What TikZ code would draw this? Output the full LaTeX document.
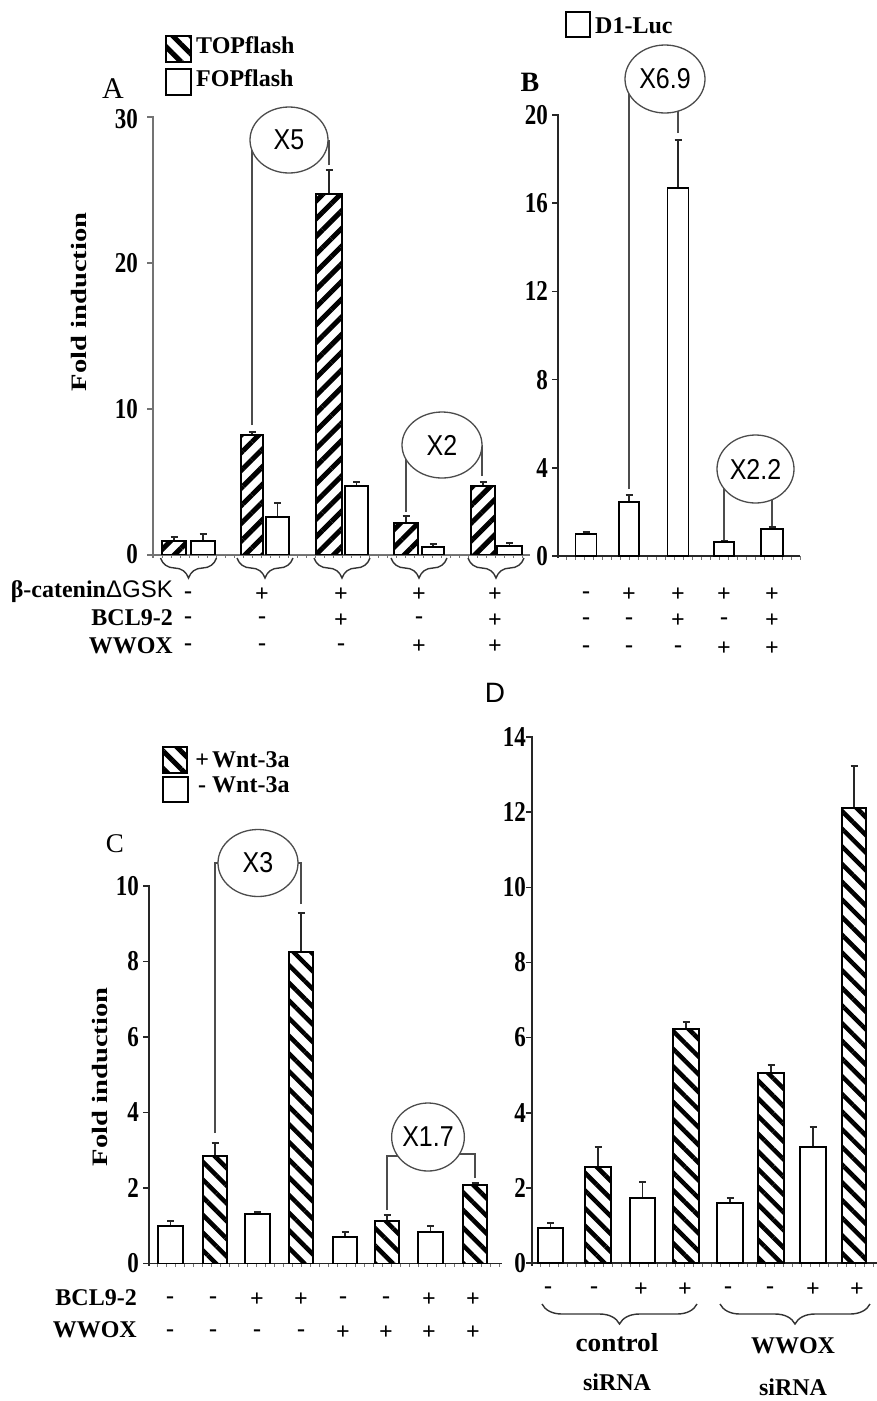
\documentclass[tikz,border=0pt]{standalone}
\usepackage{graphicx}
\usepackage{fontspec}
\setmainfont{Liberation Serif}
\newfontfamily\sansf{Liberation Sans}
\usetikzlibrary{patterns.meta,decorations.pathreplacing,shapes.geometric,backgrounds,calc}
\newcommand\drawbar[6]{%
  \draw[errline] ({(#2+#3)/2},#5) -- ({(#2+#3)/2},#6) ({(#2+#3)/2-3.5},#6) -- ({(#2+#3)/2+3.5},#6);
  \draw[#1] (#2,#4) rectangle (#3,#5);
}
\begin{document}
\begin{tikzpicture}[x=1pt,y=-1pt,
  lab/.style={font=\fontsize{24}{24}\selectfont\bfseries, inner sep=0pt},
  sg/.style={font=\fontsize{24}{24}\selectfont\bfseries, inner sep=0pt},
  tk/.style={font=\fontsize{23}{23}\selectfont\bfseries, inner sep=0pt, anchor=east, yscale=1.25},
  ell/.style={ellipse, draw=black!70, line width=1.3pt, fill=white, inner sep=0pt, font=\sansf\fontsize{25}{25}\selectfont},
  conn/.style={black!70, line width=1.3pt},
  axis/.style={black!85, line width=1.6pt},
  axisA/.style={black!55, line width=1.8pt},
  errline/.style={black!85, line width=1.3pt},
  minor/.style={black!55, line width=0.7pt},
  brc/.style={decorate, decoration={brace, mirror, amplitude=20pt}, black!80, line width=1.4pt},
  hatchA/.style={draw=black, line width=1.6pt, pattern={Lines[angle=45,distance=12.5pt,line width=5pt]}},
  hatchL/.style={draw=black, line width=1.6pt, pattern={Lines[angle=-45,distance=12.5pt,line width=5pt]}},
  hatchC/.style={draw=black, line width=1.6pt, pattern={Lines[angle=-45,distance=12.5pt,line width=4.5pt]}},
  openbar/.style={draw=black, line width=1.6pt, fill=white},
  ylab/.style={font=\fontsize{22}{22}\selectfont\bfseries, rotate=90, inner sep=0pt},
  pl/.style={inner sep=0pt, anchor=base}
]
\begin{scope}[on background layer]
\fill[white] (0,0) rectangle (877,1401);
\end{scope}
\useasboundingbox (0,0) rectangle (877,1401);

%================ PANEL A =================
\node[pl, font=\fontsize{30}{30}\selectfont] (lA) at (113,98) {A};
\draw[hatchL] (166,36) rectangle (191,62);
\node[lab, anchor=base west] (legA1) at (196,53) {TOPflash};
\draw[openbar] (166,69) rectangle (191,95);
\node[lab, anchor=base west] (legA2) at (196,86) {FOPflash};
\node[ylab] (yA) at (79,302) {\scalebox{1.3}[1]{Fold induction}};
\draw[axisA] (147,117) -- (153,117) -- (153,558);
\foreach \y in {263,409,554.5} \draw[axisA] (147,\y) -- (153,\y);
\foreach \v/\y in {30/119,20/263,10/409,0/554.5} \node[tk] (tA\v) at (138,\y) {\v};
\foreach \x in {162,171,...,528} \draw[minor] (\x,554.5) -- (\x,558);
\draw[axisA, line width=2pt] (147,554.5) -- (530,554.5);
\drawbar{hatchA}{162}{186}{554.5}{541}{537}
\drawbar{openbar}{191}{215}{554.5}{541}{534}
\drawbar{hatchA}{241}{263}{554.5}{435}{432}
\drawbar{openbar}{266}{289}{554.5}{517}{503}
\drawbar{hatchA}{316}{342}{554.5}{194}{170}
\drawbar{openbar}{345}{368}{554.5}{486}{482}
\drawbar{hatchA}{394}{418}{554.5}{523}{516}
\drawbar{openbar}{422}{444}{554.5}{547}{544}
\drawbar{hatchA}{471}{495}{554.5}{486}{482}
\drawbar{openbar}{497}{522}{554.5}{546}{543}
\node[ell, minimum width=78pt, minimum height=66pt] (eA1) at (289,140) {\scalebox{1}[1.15]{X5}};
\node[ell, minimum width=80pt, minimum height=66pt] (eA2) at (442,445) {\scalebox{1}[1.15]{X2}};
\coordinate (cA2) at (252,425);
\coordinate (cA3) at (329,165);
\coordinate (cA4) at (406,512);
\coordinate (cA5) at (482,476);
\begin{scope}[on background layer]
\draw[conn] (cA2) -- (cA2 |- eA1.center);
\draw[conn] (cA3) -- (cA3 |- eA1.center);
\draw[conn] (cA4) -- (cA4 |- eA2.center);
\draw[conn] (cA5) -- (cA5 |- eA2.center);
\end{scope}
\foreach \c in {188.5,265,342,419,496} \draw[brc] ({\c-28},558) -- ({\c+28},558);
\node[lab, anchor=base east] (rA1) at (173,597) {β-catenin{\sansf\mdseries Δ}{\sansf\mdseries GSK}};
\node[lab, anchor=base east] (rA2) at (173,625) {BCL9-2};
\node[lab, anchor=base east] (rA3) at (173,653) {WWOX};
\foreach \x/\s [count=\i] in {188/-,262/+,341/+,419/+,495/+} \node[sg] (sA1\i) at (\x,595) {\s};
\foreach \x/\s [count=\i] in {188/-,262/-,341/+,419/-,495/+} \node[sg] (sA2\i) at (\x,620.5) {\s};
\foreach \x/\s [count=\i] in {188/-,262/-,341/-,419/+,495/+} \node[sg] (sA3\i) at (\x,647) {\s};

%================ PANEL B =================
\draw[openbar] (566,12) rectangle (590,37);
\node[lab, anchor=base west] (legB) at (595,33) {D1-Luc};
\node[pl, font=\fontsize{28}{28}\selectfont\bfseries] (lB) at (530,91) {B};
\draw[axis] (552,115) -- (558,115) -- (558,558);
\foreach \y in {203.2,291.4,379.6,467.8,556} \draw[axis] (552,\y) -- (558,\y);
\foreach \v/\y in {20/115,16/203.2,12/291.4,8/379.6,4/467.8,0/556} \node[tk] (tB\v) at (548,\y) {\v};
\foreach \x in {566,575,...,800} \draw[minor] (\x,556) -- (\x,559.5);
\draw[axis] (552,556) -- (800,556);
\drawbar{openbar}{575.5}{596.5}{556}{534}{532}
\drawbar{openbar}{619}{639}{556}{502}{495}
\drawbar{openbar}{667.5}{688.5}{556}{188}{140}
\drawbar{openbar}{714}{734}{556}{542}{541}
\drawbar{openbar}{761}{783}{556}{529}{527}
\node[ell, minimum width=80pt, minimum height=68pt] (eB1) at (665,79) {\scalebox{1}[1.15]{X6.9}};
\node[ell, minimum width=77pt, minimum height=68pt] (eB2) at (755.5,469) {\scalebox{1}[1.15]{X2.2}};
\coordinate (cB2) at (629,489);
\coordinate (cB3) at (678,133);
\coordinate (cB4) at (724,542);
\coordinate (cB5) at (772,527);
\begin{scope}[on background layer]
\draw[conn] (cB2) -- (cB2 |- eB1.center);
\draw[conn] (cB3) -- (cB3 |- eB1.center);
\draw[conn] (cB4) -- (cB4 |- eB2.center);
\draw[conn] (cB5) -- (cB5 |- eB2.center);
\end{scope}
\foreach \x/\s [count=\i] in {586/-,629/+,678/+,724/+,772/+} \node[sg] (sB1\i) at (\x,595) {\s};
\foreach \x/\s [count=\i] in {586/-,629/-,678/+,724/-,772/+} \node[sg] (sB2\i) at (\x,621) {\s};
\foreach \x/\s [count=\i] in {586/-,629/-,678/-,724/+,772/+} \node[sg] (sB3\i) at (\x,649) {\s};

%================ PANEL C =================
\draw[hatchL] (163,747) rectangle (187,773);
\node[lab, anchor=base west] (legC1) at (192,767) {\makebox[20pt][c]{+}Wnt-3a};
\draw[openbar] (163,777) rectangle (188,802);
\node[lab, anchor=base west] (legC2) at (192,792) {\makebox[20pt][c]{-}Wnt-3a};
\node[pl, font=\fontsize{27}{27}\selectfont] (lC) at (115,852) {C};
\node[ylab] (yC) at (100,1077) {\scalebox{1.3}[1]{Fold induction}};
\draw[axis] (143,886) -- (149,886) -- (149,1266);
\foreach \y in {961.5,1036.9,1112.4,1187.8,1263.3} \draw[axis] (143,\y) -- (149,\y);
\foreach \v/\y in {10/886,8/961.5,6/1036.9,4/1112.4,2/1187.8,0/1263.3} \node[tk] (tC\v) at (139,\y) {\v};
\foreach \x in {157,166,...,500} \draw[minor] (\x,1263.3) -- (\x,1266.8);
\draw[axis] (143,1263.3) -- (502,1263.3);
\drawbar{openbar}{158}{183}{1263.3}{1226}{1221}
\drawbar{hatchC}{203}{227}{1263.3}{1156}{1143}
\drawbar{openbar}{245}{270}{1263.3}{1214}{1212}
\drawbar{hatchC}{289}{313}{1263.3}{952}{913}
\drawbar{openbar}{333}{357}{1263.3}{1237}{1232}
\drawbar{hatchC}{375}{399}{1263.3}{1221}{1215}
\drawbar{openbar}{418}{443}{1263.3}{1232}{1226}
\drawbar{hatchC}{463}{487}{1263.3}{1185}{1183}
\node[ell, minimum width=80pt, minimum height=67pt] (eC1) at (258,863) {\scalebox{1}[1.15]{X3}};
\node[ell, minimum width=70pt, minimum height=68pt] (eC2) at (428,1137) {\scalebox{1}[1.15]{X1.7}};
\coordinate (cC2) at (215,1133);
\coordinate (cC4) at (301,904);
\coordinate (cC6) at (387,1210);
\coordinate (cC8) at (475,1178);
\begin{scope}[on background layer]
\draw[conn] (cC2) |- (eC1.center);
\draw[conn] (cC4) |- (eC1.center);
\draw[conn] (cC6) |- ($(eC2.center)+(0,19)$);
\draw[conn] (cC8) |- ($(eC2.center)+(0,17)$);
\end{scope}
\node[lab, anchor=base east] (rC1) at (137,1305) {BCL9-2};
\node[lab, anchor=base east] (rC2) at (137,1337) {WWOX};
\foreach \x/\s [count=\i] in {170/-,213/-,257/+,301/+,343/-,386/-,429/+,473/+} \node[sg] (sC1\i) at (\x,1300) {\s};
\foreach \x/\s [count=\i] in {170/-,213/-,257/-,301/-,343/+,386/+,429/+,473/+} \node[sg] (sC2\i) at (\x,1333) {\s};

%================ PANEL D =================
\node[pl, font=\sansf\fontsize{28}{28}\selectfont] (lD) at (495,702) {D};
\draw[axis] (526,737) -- (532,737) -- (532,1266);
\foreach \y in {812.1,887.3,962.4,1037.6,1112.7,1187.9,1263} \draw[axis] (526,\y) -- (532,\y);
\foreach \v/\y in {14/737,12/812.1,10/887.3,8/962.4,6/1037.6,4/1112.7,2/1187.9,0/1263} \node[tk] (tD\v) at (526,\y) {\v};
\foreach \x in {540,549,...,877} \draw[minor] (\x,1263) -- (\x,1266.5);
\draw[axis] (526,1263) -- (877,1263);
\drawbar{openbar}{538}{563}{1263}{1228}{1223}
\drawbar{hatchC}{585}{611}{1263}{1167}{1147}
\drawbar{openbar}{630}{655}{1263}{1198}{1182}
\drawbar{hatchC}{673}{699}{1263}{1029}{1022}
\drawbar{openbar}{717}{743}{1263}{1203}{1198}
\drawbar{hatchC}{758}{784}{1263}{1073}{1065}
\drawbar{openbar}{800}{826}{1263}{1147}{1127}
\drawbar{hatchC}{842}{866}{1263}{808}{766}
\foreach \x/\s [count=\i] in {548/-,594/-,641/+,685/+,728/-,770/-,813/+,857/+} \node[sg] (sD\i) at (\x,1290) {\s};
\draw[brc] (542,1304) -- (697,1304);
\draw[brc] (720,1304) -- (870,1304);
\node[lab, anchor=base, font=\fontsize{26}{26}\selectfont\bfseries] (gD1) at (617,1351) {\scalebox{1.05}[1]{control}};
\node[lab, anchor=base] (gD2) at (617,1390) {siRNA};
\node[lab, anchor=base] (gD3) at (793,1353) {WWOX};
\node[lab, anchor=base] (gD4) at (793,1395) {siRNA};
\end{tikzpicture}
\end{document}
